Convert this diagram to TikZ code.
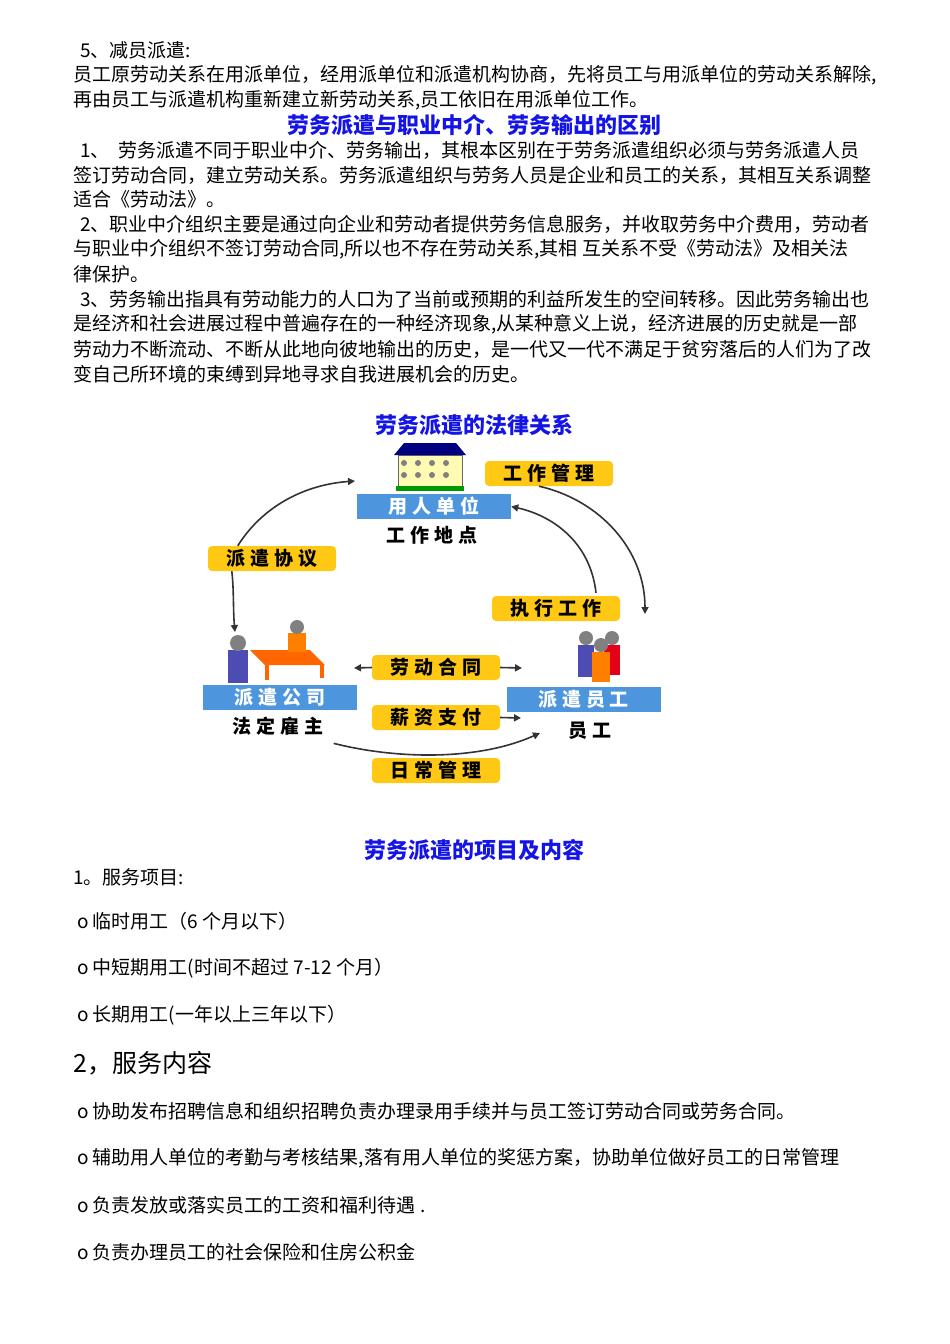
\documentclass[tikz,border=0pt]{standalone}
\usepackage{fontspec}
\setmainfont{Noto Sans CJK SC}
\usetikzlibrary{arrows.meta}
\definecolor{barblue}{RGB}{77,150,222}
\definecolor{lblyellow}{RGB}{255,200,20}
\definecolor{ttlblue}{RGB}{20,20,230}
\newcommand{\lsp}{\hspace{5pt}}
\tikzset{
 body/.style={anchor=west,inner sep=0pt,font=\fontsize{19}{20}\selectfont},
 ttl/.style={inner sep=0pt,text=ttlblue,font=\fontsize{22}{24}\selectfont\bfseries},
 bar/.style={fill=barblue,text=white,minimum width=154pt,minimum height=25pt,inner sep=0pt,font=\fontsize{19}{21}\selectfont\bfseries},
 lbl/.style={fill=lblyellow,rounded corners=4pt,minimum width=128pt,minimum height=25pt,inner sep=0pt,font=\fontsize{19}{21}\selectfont\bfseries},
 sub/.style={inner sep=0pt,font=\fontsize{19}{21}\selectfont\bfseries},
 arr/.style={-{Triangle[length=7pt,width=7pt]},line width=1.6pt,draw=black!80},
}
\begin{document}
\begin{tikzpicture}[x=1pt,y=-1pt]
\useasboundingbox (0,0) rectangle (950,1344);
\node[body] (t1) at (80,50) {5、减员派遣:};
\node[body] (t2) at (73,75) {员工原劳动关系在用派单位，经用派单位和派遣机构协商，先将员工与用派单位的劳动关系解除,};
\node[body] (t3) at (73,100) {再由员工与派遣机构重新建立新劳动关系,员工依旧在用派单位工作。};
\node[ttl] (h1) at (474,125) {劳务派遣与职业中介、劳务输出的区别};
\node[body] (p1) at (80,150) {1、\ \ 劳务派遣不同于职业中介、劳务输出，其根本区别在于劳务派遣组织必须与劳务派遣人员};
\node[body] (p2) at (73,175) {签订劳动合同，建立劳动关系。劳务派遣组织与劳务人员是企业和员工的关系，其相互关系调整};
\node[body] (p3) at (73,199) {适合《劳动法》。};
\node[body] (p4) at (80,224) {2、职业中介组织主要是通过向企业和劳动者提供劳务信息服务，并收取劳务中介费用，劳动者};
\node[body] (p5) at (73,249) {与职业中介组织不签订劳动合同,所以也不存在劳动关系,其相\ 互关系不受《劳动法》及相关法};
\node[body] (p6) at (73,274) {律保护。};
\node[body] (p7) at (80,299) {3、劳务输出指具有劳动能力的人口为了当前或预期的利益所发生的空间转移。因此劳务输出也};
\node[body] (p8) at (73,324) {是经济和社会进展过程中普遍存在的一种经济现象,从某种意义上说，经济进展的历史就是一部};
\node[body] (p9) at (73,349) {劳动力不断流动、不断从此地向彼地输出的历史，是一代又一代不满足于贫穷落后的人们为了改};
\node[body] (p10) at (73,374) {变自己所环境的束缚到异地寻求自我进展机会的历史。};
% diagram
\node[ttl] (h2) at (474,425) {劳务派遣的法律关系};
% building icon
\fill[yellow!30!white,draw=black!60] (398,455) rectangle (462,488);
\fill[blue!50!black] (394,455) -- (404,443) -- (456,443) -- (466,455) -- cycle;
\foreach \i in {0,1,2,3} {\fill[black!50] (404+\i*14,463) circle (3); \fill[black!50] (404+\i*14,475) circle (3);}
\fill[green!60!black] (396,486) rectangle (464,491);
\node[bar] (yr) at (434,506.5) {用\lsp 人\lsp 单\lsp 位};
\node[sub] (gd) at (432,535) {工\lsp 作\lsp 地\lsp 点};
% company icon
\fill[orange!80!red] (250,650) -- (310,650) -- (325,665) -- (265,665) -- cycle;
\fill[orange!80!red] (265,665) rectangle (269,680); \fill[orange!80!red] (320,665) rectangle (324,678);
\fill[blue!40!gray] (228,650) rectangle (248,683); \fill[gray] (238,643) circle (8);
\fill[orange] (288,633) rectangle (306,652); \fill[gray] (297,627) circle (7);
\node[bar] (pq) at (280,697.5) {派\lsp 遣\lsp 公\lsp 司};
\node[sub] (fd) at (278,726) {法\lsp 定\lsp 雇\lsp 主};
% employees icon
\fill[blue!40!gray] (578,645) rectangle (594,677); \fill[gray] (586,638) circle (7);
\fill[red!60!purple] (604,645) rectangle (620,675); \fill[gray] (612,638) circle (7);
\fill[orange] (592,652) rectangle (610,682); \fill[gray] (601,645) circle (7);
\node[bar] (py) at (583.5,699) {派\lsp 遣\lsp 员\lsp 工};
\node[sub] (yg) at (590,731) {员\lsp 工};
% labels
\node[lbl] (gz) at (549,473.5) {工\lsp 作\lsp 管\lsp 理};
\node[lbl] (xy) at (272,558.5) {派\lsp 遣\lsp 协\lsp 议};
\node[lbl] (zx) at (556,608.5) {执\lsp 行\lsp 工\lsp 作};
\node[lbl] (ht) at (436,667.5) {劳\lsp 动\lsp 合\lsp 同};
\node[lbl] (xz) at (436,717.5) {薪\lsp 资\lsp 支\lsp 付};
\node[lbl] (rc) at (436,770.5) {日\lsp 常\lsp 管\lsp 理};
% connectors
\coordinate (a1) at (355,481);
\coordinate (a2) at (235,632);
\draw[arr] (xy.north west) ++(30,0) .. controls (260,510) and (300,485) .. (a1);
\draw[arr] (xy.south west) ++(24,0) .. controls (234,590) and (233,610) .. (a2);
\coordinate (b2) at (645,614);
\draw[arr] (gz.south) ++(-10,0) .. controls (600,500) and (645,550) .. (b2);
\draw[arr] (zx.north) ++(40,-3) .. controls (590,540) and (550,515) .. (yr.east);
\coordinate (c1) at (354,668);
\coordinate (c2) at (522,668);
\draw[arr] (ht.west) -- (c1);
\draw[arr] (ht.east) -- (c2);
\coordinate (d2) at (521,718);
\draw[arr] (xz.east) -- (d2);
\coordinate (e2) at (540,733);
\draw[arr] (fd.south east) ++(10,8) .. controls (400,760) and (480,760) .. (e2);
% second section
\node[ttl] (h3) at (474,850) {劳务派遣的项目及内容};
\node[body] (s1) at (73,877) {1。服务项目:};
\node[body] (s2) at (77,921) {o 临时用工（6 个月以下）};
\node[body] (s3) at (77,968) {o 中短期用工(时间不超过 7-12 个月）};
\node[body] (s4) at (77,1015) {o 长期用工(一年以上三年以下）};
\node[body,font=\fontsize{25}{27}\selectfont] (s5) at (73,1063) {2，服务内容};
\node[body] (s6) at (77,1111) {o 协助发布招聘信息和组织招聘负责办理录用手续并与员工签订劳动合同或劳务合同。};
\node[body] (s7) at (77,1158) {o 辅助用人单位的考勤与考核结果,落有用人单位的奖惩方案，协助单位做好员工的日常管理};
\node[body] (s8) at (77,1205) {o 负责发放或落实员工的工资和福利待遇\ .};
\node[body] (s9) at (77,1252) {o 负责办理员工的社会保险和住房公积金};
\end{tikzpicture}
\end{document}
